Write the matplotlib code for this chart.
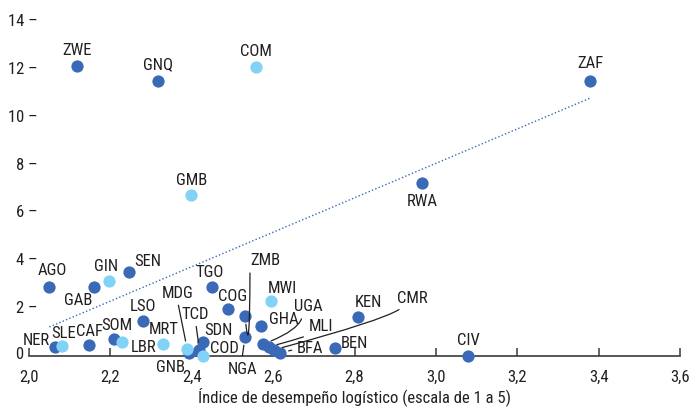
import matplotlib
matplotlib.use("Agg")
import matplotlib.pyplot as plt
from matplotlib import font_manager

avail = {f.name for f in font_manager.fontManager.ttflist}
fam = [f for f in ["Liberation Sans Narrow", "Roboto Condensed", "Roboto", "DejaVu Sans"] if f in avail]
plt.rcParams['font.family'] = fam

# ---- data ----
codes = ["ZWE", "GNQ", "COM", "ZAF", "GMB", "RWA", "AGO", "GAB", "GIN", "SEN",
         "TGO", "COG", "ZMB", "MWI", "LSO", "GHA", "KEN", "NER", "SLE", "CAF",
         "SOM", "LBR", "MRT", "MDG", "GNB", "TCD", "COD", "SDN", "NGA", "UGA",
         "MLI", "CMR", "BFA", "BEN", "CIV"]
lpi = [2.118, 2.317, 2.558, 3.380, 2.399, 2.967, 2.049, 2.160, 2.197, 2.246,
       2.450, 2.490, 2.531, 2.595, 2.280, 2.571, 2.809, 2.064, 2.081, 2.148,
       2.209, 2.229, 2.330, 2.389, 2.394, 2.419, 2.428, 2.428, 2.531, 2.576,
       2.590, 2.603, 2.618, 2.751, 3.079]
value = [12.03, 11.41, 11.99, 11.41, 6.64, 7.15, 2.80, 2.80, 3.05, 3.43,
         2.80, 1.88, 1.59, 2.21, 1.38, 1.17, 1.55, 0.29, 0.33, 0.38,
         0.63, 0.50, 0.42, 0.20, 0.04, 0.15, -0.08, 0.50, 0.71, 0.42,
         0.30, 0.18, 0.06, 0.27, -0.08]
light = {"COM", "GMB", "GIN", "MWI", "SLE", "LBR", "MRT", "MDG", "COD"}

trend_x = [2.05, 3.38]
trend_y = [1.13, 10.70]

xticks = [2.0, 2.2, 2.4, 2.6, 2.8, 3.0, 3.2, 3.4, 3.6]
xticklabels = ["2,0", "2,2", "2,4", "2,6", "2,8", "3,0", "3,2", "3,4", "3,6"]
yticks = [2, 4, 6, 8, 10, 12, 14]
xlabel = "Índice de desempeño logístico (escala de 1 a 5)"

# ---- label placement (offset pixels) ----
lab = {
    "ZWE": (0, 17), "GNQ": (0, 17), "COM": (0, 17), "ZAF": (0, 18),
    "GMB": (0, 16), "RWA": (0, -18), "AGO": (3, 17), "GAB": (-16, -13),
    "GIN": (-3, 16), "SEN": (19, 11), "TGO": (-2, 15), "COG": (4, 14),
    "MWI": (11, 14), "LSO": (0, 15), "GHA": (22, 7), "KEN": (10, 15),
    "NER": (-19, 8), "SLE": (2, 14), "CAF": (0, 14), "SOM": (3, 14),
    "LBR": (21, -4), "MRT": (0, 15), "GNB": (-19, -13), "COD": (21, 8),
    "SDN": (15, 13), "BEN": (20, 5), "CIV": (0, 16),
}
leaders = {
    "ZMB": (20, 56, (0.0, 0.35), "angle3,angleA=90,angleB=95"),
    "MDG": (-10, 57, (0.5, 0.0), "arc3,rad=0"),
    "TCD": (-4, 37, (0.5, 0.0), "arc3,rad=0"),
    "NGA": (-2, -32, (0.45, 1.0), "arc3,rad=0"),
    "UGA": (45, 38, (0.3, 0.0), "angle3,angleA=-90,angleB=20"),
    "MLI": (52, 21, (0.1, 0.0), "angle3,angleA=-90,angleB=15"),
    "CMR": (138, 52, (0.2, 0.0), "angle3,angleA=-90,angleB=15"),
    "BFA": (30, 5, (0.0, 0.4), "arc3,rad=0"),
}

DARK = "#3a6ab7"
LIGHT = "#80d3f6"
TXT = "#231f20"

fig = plt.figure(figsize=(6.92, 4.10), dpi=100)
W, H = 692, 410
ax = fig.add_axes([29 / W, 1 - 357 / H, (680 - 29) / W, 349 / H])
ax.set_xlim(2.0, 3.6)
ax.set_ylim(-0.084, 14.5)

ax.plot(trend_x, trend_y, color=DARK, lw=1.0, linestyle=(0, (1, 1.6)), zorder=1)

dx_ = [x for x, c in zip(lpi, codes) if c not in light]
dy_ = [y for y, c in zip(value, codes) if c not in light]
lx_ = [x for x, c in zip(lpi, codes) if c in light]
ly_ = [y for y, c in zip(value, codes) if c in light]
ax.scatter(dx_, dy_, s=78, color=DARK, linewidths=0, zorder=3, clip_on=False)
ax.scatter(lx_, ly_, s=78, color=LIGHT, linewidths=0, zorder=4, clip_on=False)

FS = 12
for c, x, y in zip(codes, lpi, value):
    if c in lab:
        dx, dy = lab[c]
        ax.annotate(c, (x, y), xytext=(dx, dy), textcoords="offset pixels",
                    ha="center", va="center", fontsize=FS, color=TXT, zorder=5)
    elif c in leaders:
        dx, dy, rp, cs = leaders[c]
        ax.annotate(c, (x, y), xytext=(dx, dy), textcoords="offset pixels",
                    ha="center", va="center", fontsize=FS, color=TXT, zorder=5,
                    arrowprops=dict(arrowstyle="-", color=TXT, lw=0.9,
                                    relpos=rp, shrinkA=2, shrinkB=6,
                                    connectionstyle=cs))

# axes styling
for s in ["top", "right", "left"]:
    ax.spines[s].set_visible(False)
ax.spines["bottom"].set_color("#3a3a3a")
ax.spines["bottom"].set_linewidth(1.2)
ax.set_xticks(xticks)
ax.set_xticklabels(xticklabels, fontsize=FS, color=TXT)
ax.tick_params(axis="x", direction="in", length=6, width=1.1, color="#3a3a3a", pad=9)
ax.set_yticks(yticks)
ax.set_yticklabels([f"{t} –" for t in yticks], fontsize=FS, color=TXT)
ax.tick_params(axis="y", length=0, pad=-6)
ax.annotate("0", xy=(0, 0), xycoords=("axes fraction", "data"), xytext=(-6, 0),
            textcoords="offset pixels", fontsize=FS, color=TXT, ha="right", va="center",
            annotation_clip=False)
ax.set_xlabel(xlabel, fontsize=FS, color=TXT, labelpad=2)

fig.savefig("out.png", dpi=100)
